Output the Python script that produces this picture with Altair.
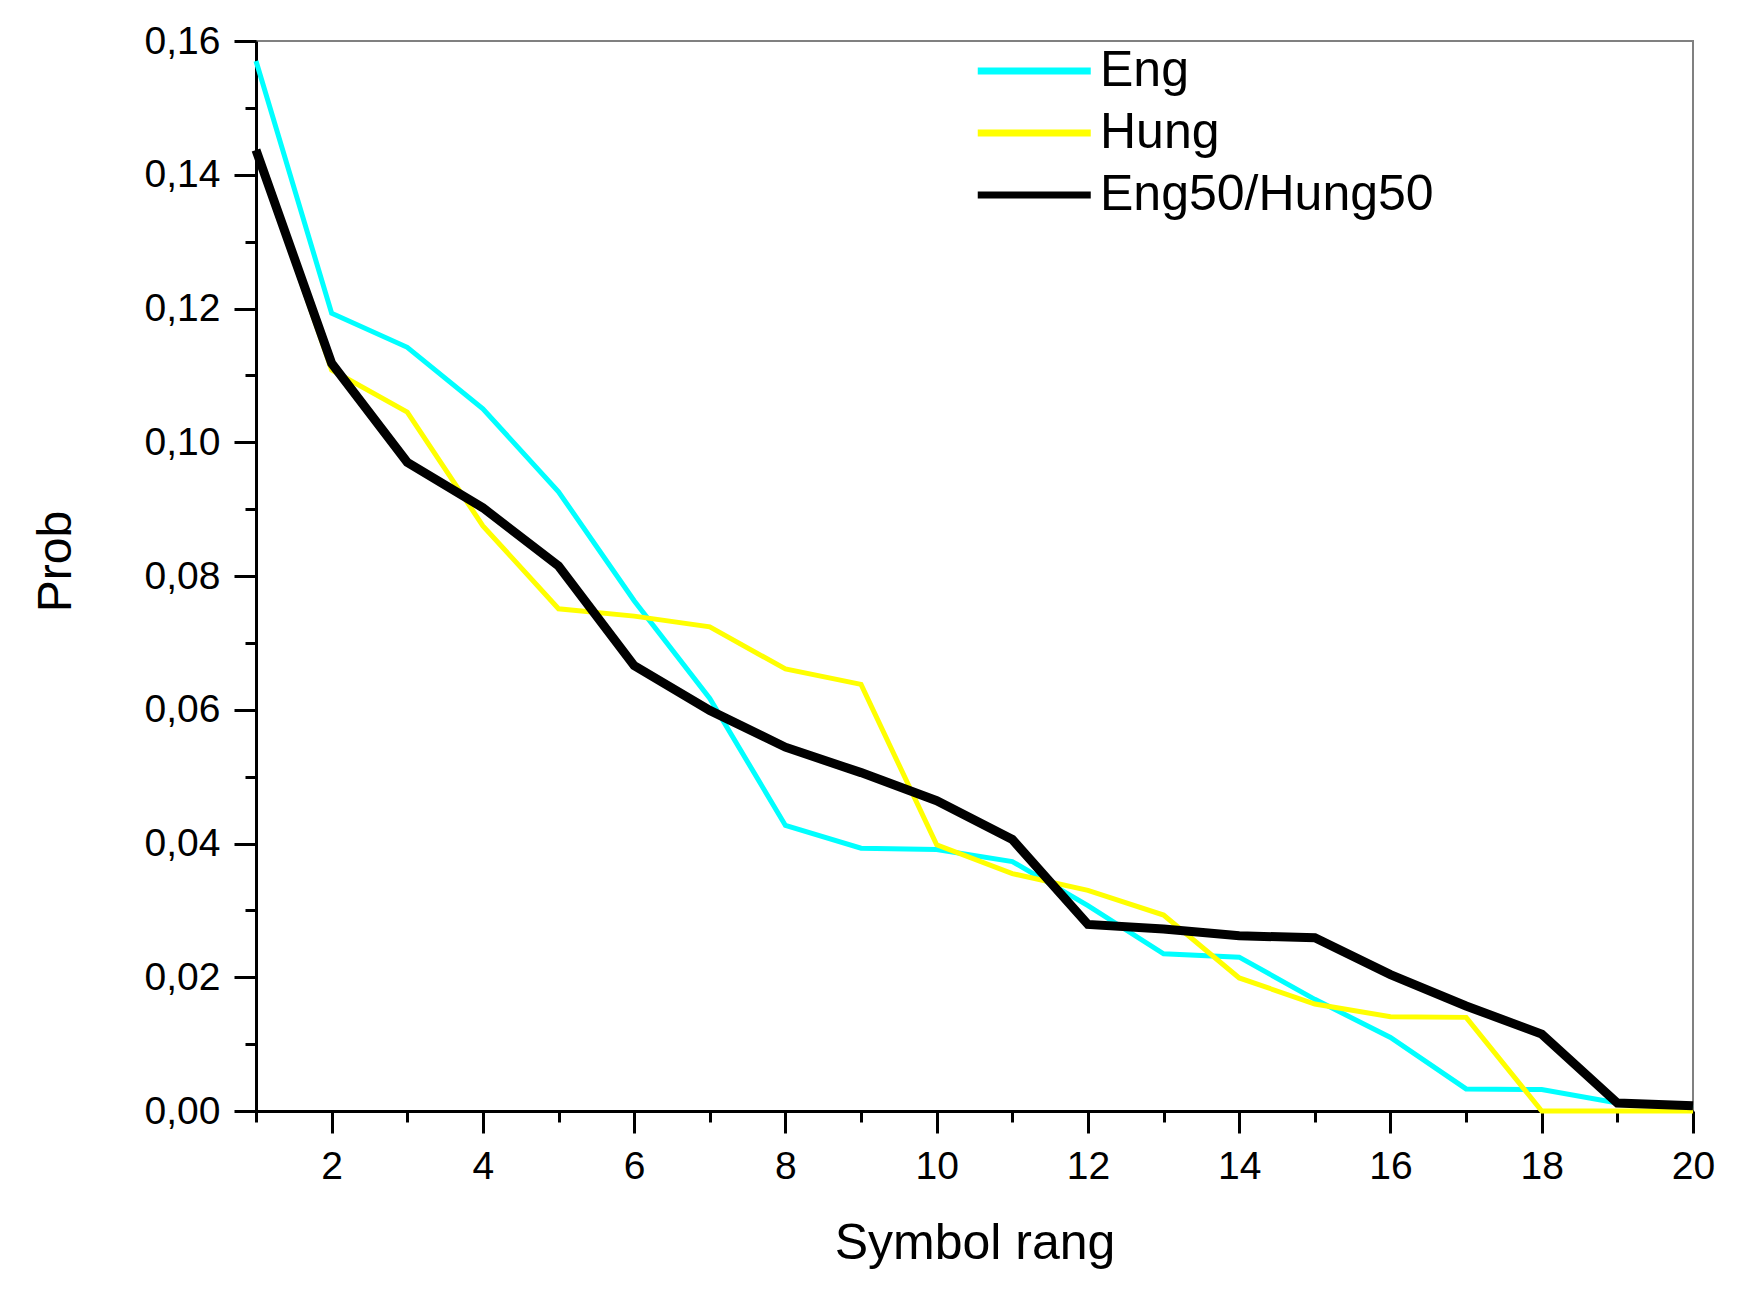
import altair as alt
import pandas as pd

rank = list(range(1, 21))
eng = [0.1570, 0.1193, 0.1142, 0.1050, 0.0926, 0.0763, 0.0617, 0.0427, 0.0393, 0.0391,
       0.0373, 0.0307, 0.0235, 0.0230, 0.0167, 0.0110, 0.0033, 0.0032, 0.0012, 0.0005]
hung = [0.1435, 0.1108, 0.1045, 0.0875, 0.0751, 0.0740, 0.0724, 0.0661, 0.0638, 0.0398,
        0.0355, 0.0330, 0.0293, 0.0199, 0.0160, 0.0141, 0.0140, 0.0000, 0.0000, 0.0000]
mix = [0.1437, 0.1118, 0.0970, 0.0902, 0.0815, 0.0666, 0.0599, 0.0544, 0.0506, 0.0464,
       0.0406, 0.0279, 0.0272, 0.0262, 0.0259, 0.0204, 0.0157, 0.0115, 0.0012, 0.0008]

series = ["Eng", "Hung", "Eng50/Hung50"]
colors = ["#00FFFF", "#FFFF00", "#000000"]
widths = [5, 5, 9]
y_ticks = [0.00, 0.01, 0.02, 0.03, 0.04, 0.05, 0.06, 0.07, 0.08,
           0.09, 0.10, 0.11, 0.12, 0.13, 0.14, 0.15, 0.16]

df = pd.DataFrame({
    "rank": rank * 3,
    "prob": eng + hung + mix,
    "series": [s for s in series for _ in rank],
})

FONT = "Liberation Sans"

xaxis = alt.Axis(
    values=rank,
    labelExpr="datum.value % 2 == 0 ? datum.label : ''",
    tickSize={"condition": {"test": "datum.value % 2 == 0", "value": 22}, "value": 11},
    labelPadding=14,
    grid=False,
    domainColor="black", domainWidth=3,
    tickColor="black", tickWidth=3,
    labelFont=FONT, labelFontSize=39, labelColor="black",
    labelFlush=False, labelOverlap=False,
    title="Symbol rang",
    titleFont=FONT, titleFontSize=50, titleFontWeight="normal", titleColor="black",
    titleY=147, titleBaseline="alphabetic",
)

yaxis = alt.Axis(
    values=y_ticks,
    labelExpr="round(datum.value * 100) % 2 == 0 ? replace(format(datum.value, '.2f'), '.', ',') : ''",
    tickSize={"condition": {"test": "round(datum.value * 100) % 2 == 0", "value": 22}, "value": 11},
    labelPadding=14,
    grid=False,
    domainColor="black", domainWidth=3,
    tickColor="black", tickWidth=3,
    labelFont=FONT, labelFontSize=39, labelColor="black",
    labelFlush=False, labelOverlap=False,
    title="Prob",
    titleFont=FONT, titleFontSize=48, titleFontWeight="normal", titleColor="black",
    titleAngle=270, titleX=-186, titleY=520, titleAlign="center", titleBaseline="alphabetic",
)

legend = alt.Legend(
    title=None, orient="none", legendX=718, legendY=-2,
    symbolType="M-1,0H3", symbolSize=3192, symbolStrokeWidth=7,
    labelFont=FONT, labelFontSize=50, labelColor="black", labelLimit=600,
    labelOffset=62, rowPadding=5, padding=0,
)

base = alt.Chart(df)


def layer(name, w):
    return base.transform_filter(alt.datum.series == name).mark_line(
        strokeWidth=w, strokeJoin="miter"
    ).encode(
        x=alt.X("rank:Q", scale=alt.Scale(domain=[1, 20], nice=False, zero=False), axis=xaxis),
        y=alt.Y("prob:Q", scale=alt.Scale(domain=[0, 0.16], nice=False), axis=yaxis),
        color=alt.Color("series:N", scale=alt.Scale(domain=series, range=colors), legend=legend),
    )


chart = alt.layer(*[layer(s, w) for s, w in zip(series, widths)]).properties(
    width=1437, height=1070,
    autosize=alt.AutoSizeParams(type="none"),
    padding={"left": 248, "top": 33, "right": 57, "bottom": 175},
    background="white",
).configure_view(stroke="#808080", strokeWidth=2)

chart.save("out.html", embed_options={"renderer": "svg", "actions": False})
